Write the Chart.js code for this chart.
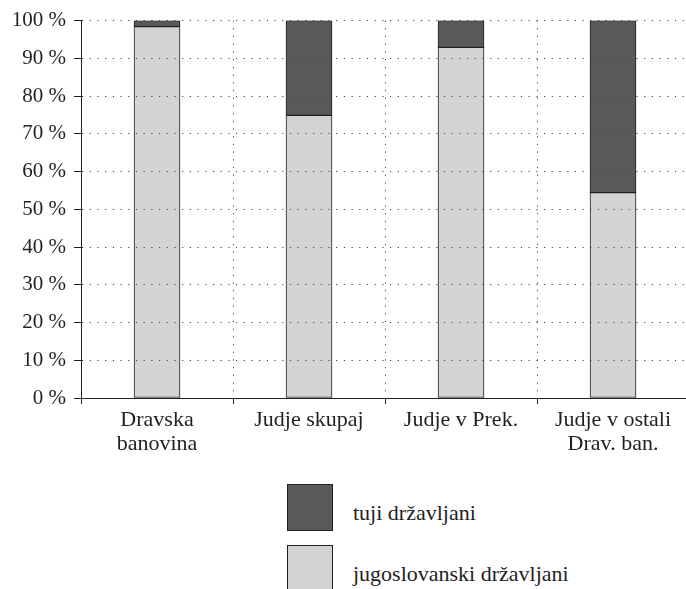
<!DOCTYPE html>
<html>
<head>
<meta charset="utf-8">
<script src="https://cdn.jsdelivr.net/npm/chart.js"></script>
<style>
    html, body { margin: 0; padding: 0; background: #fff; overflow: hidden; }
    #wrap { position: relative; width: 686px; height: 589px; overflow: hidden; }
    #chart { position: absolute; left: 0; top: 0; }
    .leg-box { position: absolute; left: 287px; width: 44px; height: 45px; border: 1px solid #231f20; }
    .leg-text { position: absolute; left: 353px; font: 22px "Liberation Serif", serif; color: #231f20; line-height: 24px; }
</style>
</head>
<body>
<div id="wrap">
    <canvas id="chart" width="700" height="480"></canvas>
</div>
<script>
const categories = [["Dravska", "banovina"], "Judje skupaj", "Judje v Prek.", ["Judje v ostali", "Drav. ban."]];
const jugoslovanski = [98.4, 74.9, 92.9, 54.4];
const tuji = [1.6, 25.1, 7.1, 45.6];
const yTicks = [0, 10, 20, 30, 40, 50, 60, 70, 80, 90, 100];

const darkFill = "#58595b";
const lightFill = "#d1d3d4";
const ink = "#231f20";

const datasets = [
    { label: "jugoslovanski državljani", data: jugoslovanski, backgroundColor: lightFill },
    { label: "tuji državljani", data: tuji, backgroundColor: darkFill },
].map(d => ({
    ...d,
    borderColor: ink,
    borderWidth: 1,
    borderSkipped: false,
    barThickness: 46,
}));

const gridDots = [1.2, 6.5];

new Chart(document.getElementById("chart"), {
    type: "bar",
    data: { labels: categories, datasets },
    options: {
        responsive: false,
        animation: false,
        layout: { padding: { left: 0, top: 20, right: 11, bottom: 0 } },
        plugins: { legend: { display: false }, tooltip: { enabled: false } },
        scales: {
            x: {
                stacked: true,
                grid: {
                    offset: true,
                    color: "#444",
                    z: 1,
                    tickLength: 6,
                    tickColor: ink,
                    tickBorderDash: [],
                },
                border: { color: ink, width: 1, dash: gridDots, z: 2 },
                ticks: {
                    color: ink,
                    padding: 4,
                    maxRotation: 0,
                    autoSkip: false,
                    font: { family: "Liberation Serif", size: 22, lineHeight: 1.1 },
                },
                afterFit: s => { s.height = 82; },
            },
            y: {
                stacked: true,
                min: 0,
                max: 100,
                afterBuildTicks: s => { s.ticks = yTicks.map(v => ({ value: v })); },
                grid: {
                    color: "#444",
                    z: 1,
                    tickLength: 7,
                    tickColor: ink,
                    tickBorderDash: [],
                },
                border: { color: ink, width: 1, dash: gridDots, z: 2 },
                ticks: {
                    color: ink,
                    padding: 8,
                    font: { family: "Liberation Serif", size: 21 },
                    callback: v => v + " %",
                },
                afterFit: s => { s.width = 81; },
            },
        },
    },
});

// legend, dark series first like in the original
const wrap = document.getElementById("wrap");
const legendTops = [484, 545];
datasets.slice().reverse().forEach((d, i) => {
    const box = document.createElement("div");
    box.className = "leg-box";
    box.style.top = legendTops[i] + "px";
    box.style.background = d.backgroundColor;
    wrap.appendChild(box);
    const txt = document.createElement("div");
    txt.className = "leg-text";
    txt.style.top = (legendTops[i] + 17) + "px";
    txt.textContent = d.label;
    wrap.appendChild(txt);
});
</script>
</body>
</html>
